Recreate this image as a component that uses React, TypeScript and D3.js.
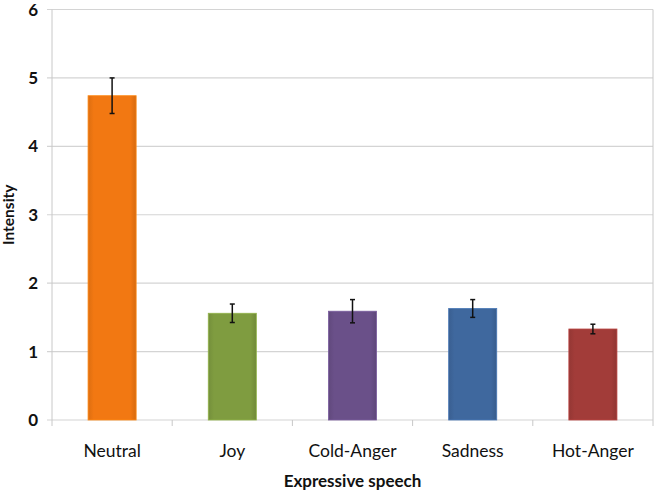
import { useEffect, useRef } from "react";
import * as d3 from "d3";

const categories = ["Neutral", "Joy", "Cold-Anger", "Sadness", "Hot-Anger"];
const intensity = [4.74, 1.56, 1.59, 1.63, 1.33];
const errors = [0.26, 0.135, 0.17, 0.13, 0.07];
const barColors = ["#F27812", "#7F9C40", "#6A5089", "#3F689E", "#A23C39"];
const yTicks = [0, 1, 2, 3, 4, 5, 6];

export default function App() {
  const svgRef = useRef<SVGSVGElement | null>(null);

  useEffect(() => {
    if (!svgRef.current) return;
    const W = 659;
    const H = 496;
    const margin = { top: 9.5, right: 6, bottom: 76, left: 52 };
    const width = W - margin.left - margin.right;
    const height = H - margin.top - margin.bottom;
    const font = "Lato, 'Open Sans', sans-serif";

    d3.select(svgRef.current).selectAll("*").remove();
    const svg = d3.select(svgRef.current).attr("width", W).attr("height", H);

    const x = d3.scaleBand().domain(categories).range([0, width]).paddingInner(0.6).paddingOuter(0.3);
    const y = d3.scaleLinear().domain([0, 6]).range([height, 0]);

    // slight bevel on the bars
    const defs = svg.append("defs");
    barColors.forEach((c, i) => {
      const grad = defs
        .append("linearGradient")
        .attr("id", `bar-grad-${i}`)
        .attr("x1", "0%")
        .attr("x2", "100%")
        .attr("y1", "0%")
        .attr("y2", "0%");
      const base = d3.color(c)!;
      grad.append("stop").attr("offset", "0%").attr("stop-color", base.darker(0.25).toString());
      grad.append("stop").attr("offset", "12%").attr("stop-color", c);
      grad.append("stop").attr("offset", "88%").attr("stop-color", c);
      grad.append("stop").attr("offset", "100%").attr("stop-color", base.darker(0.35).toString());
    });

    const g = svg.append("g").attr("transform", `translate(${margin.left},${margin.top})`);

    // gridlines
    g.selectAll("line.grid")
      .data(yTicks)
      .join("line")
      .attr("class", "grid")
      .attr("x1", -5)
      .attr("x2", width)
      .attr("y1", (d) => y(d))
      .attr("y2", (d) => y(d))
      .attr("stroke", "#d4d4d4")
      .attr("stroke-width", 1.2);

    // left and right borders
    g.append("line").attr("x1", 0).attr("x2", 0).attr("y1", 0).attr("y2", height).attr("stroke", "#c8c8c8");
    g.append("line").attr("x1", width).attr("x2", width).attr("y1", 0).attr("y2", height).attr("stroke", "#c8c8c8");

    // x ticks at category boundaries
    const boundaries = d3.range(categories.length + 1).map((i) => i * (width / categories.length));
    g.selectAll("line.xtick")
      .data(boundaries)
      .join("line")
      .attr("class", "xtick")
      .attr("x1", (d) => d)
      .attr("x2", (d) => d)
      .attr("y1", height)
      .attr("y2", height + 6)
      .attr("stroke", "#c8c8c8");

    // bars
    g.selectAll("rect.bar")
      .data(categories)
      .join("rect")
      .attr("class", "bar")
      .attr("x", (d) => x(d)!)
      .attr("y", (d, i) => y(intensity[i]))
      .attr("width", x.bandwidth())
      .attr("height", (d, i) => height - y(intensity[i]))
      .attr("fill", (d, i) => `url(#bar-grad-${i})`)
      .attr("stroke", (d, i) => d3.color(barColors[i])!.brighter(0.4).toString())
      .attr("stroke-width", 0.8);

    // error bars
    const eg = g.selectAll("g.err").data(categories).join("g").attr("class", "err");
    eg.append("line")
      .attr("x1", (d) => x(d)! + x.bandwidth() / 2)
      .attr("x2", (d) => x(d)! + x.bandwidth() / 2)
      .attr("y1", (d, i) => y(intensity[i] + errors[i]))
      .attr("y2", (d, i) => y(intensity[i] - errors[i]))
      .attr("stroke", "#111")
      .attr("stroke-width", 1.5);
    [1, -1].forEach((s) => {
      eg.append("line")
        .attr("x1", (d) => x(d)! + x.bandwidth() / 2 - 2.5)
        .attr("x2", (d) => x(d)! + x.bandwidth() / 2 + 2.5)
        .attr("y1", (d, i) => y(intensity[i] + s * errors[i]))
        .attr("y2", (d, i) => y(intensity[i] + s * errors[i]))
        .attr("stroke", "#111")
        .attr("stroke-width", 1.5);
    });

    // y tick labels
    g.selectAll("text.ytick")
      .data(yTicks)
      .join("text")
      .attr("class", "ytick")
      .attr("x", -14)
      .attr("y", (d) => y(d))
      .attr("dy", "0.36em")
      .attr("text-anchor", "end")
      .style("font-family", font)
      .style("font-size", "17px")
      .style("font-weight", "bold")
      .style("fill", "#111")
      .text((d) => d);

    // x labels
    g.selectAll("text.xlabel")
      .data(categories)
      .join("text")
      .attr("class", "xlabel")
      .attr("x", (d) => x(d)! + x.bandwidth() / 2)
      .attr("y", height + 37)
      .attr("text-anchor", "middle")
      .style("font-family", font)
      .style("font-size", "17.5px")
      .style("fill", "#111")
      .text((d) => d);

    svg
      .append("text")
      .attr("x", margin.left + width / 2)
      .attr("y", 487)
      .attr("text-anchor", "middle")
      .style("font-family", font)
      .style("font-size", "17px")
      .style("font-weight", "bold")
      .style("fill", "#111")
      .text("Expressive speech");

    svg
      .append("text")
      .attr("transform", `translate(14,${margin.top + height / 2}) rotate(-90)`)
      .attr("text-anchor", "middle")
      .style("font-family", font)
      .style("font-size", "15.5px")
      .style("font-weight", "bold")
      .style("fill", "#111")
      .text("Intensity");
  }, []);

  return (
    <div style={{ position: "absolute", left: 0, top: 0 }}>
      <svg ref={svgRef} style={{ display: "block" }} />
    </div>
  );
}
